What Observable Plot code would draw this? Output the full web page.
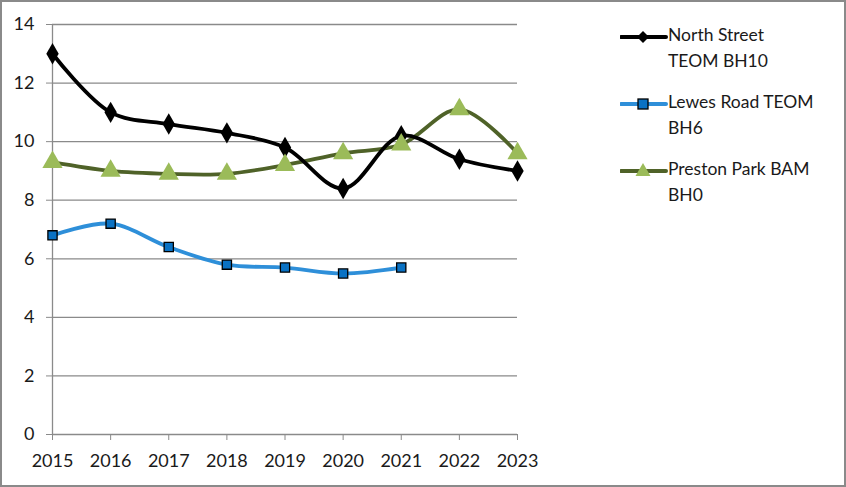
<!DOCTYPE html>
<html><head><meta charset="utf-8">
<script src="https://cdn.jsdelivr.net/npm/d3@7"></script>
<script src="https://cdn.jsdelivr.net/npm/@observablehq/plot@0.6"></script>
<style>
body{margin:0;background:#fff;}
#wrap{position:relative;width:846px;height:487px;}
#wrap svg.plot{outline:2px solid #8a8a8a;outline-offset:-2px;}
#legend{position:absolute;left:620px;top:22px;font-family:Lato,"Open Sans",sans-serif;font-size:17.5px;color:#1a1a1a;}
.item{position:relative;height:67px;}
.item svg{position:absolute;left:0;top:5px;}
.item div{position:absolute;left:48px;top:0;line-height:26px;white-space:nowrap;}
</style></head>
<body><div id="wrap"></div>
<script>
const years = [2015,2016,2017,2018,2019,2020,2021,2022,2023];
const seriesNames = ["North Street TEOM BH10","Lewes Road TEOM BH6","Preston Park BAM BH0"];
const northStreet = [13.0,11.0,10.6,10.3,9.8,8.4,10.2,9.4,9.0];
const lewesRoad = [6.8,7.2,6.4,5.8,5.7,5.5,5.7];
const prestonPark = [9.3,9.0,8.9,8.9,9.2,9.6,9.9,11.1,9.6];
const yTicks = [0,2,4,6,8,10,12,14];

const mk = (vals) => vals.map((v,i)=>({year:years[i], value:v}));
const ns = mk(northStreet), lr = mk(lewesRoad), pp = mk(prestonPark);
const font = "Lato, 'Open Sans', sans-serif";
const gray = "#8a8a8a";

const chart = Plot.plot({
  width:846, height:487,
  marginLeft:52, marginRight:329, marginTop:24, marginBottom:53,
  style:{fontFamily:font, fontSize:"18px", color:"#1a1a1a", background:"#fff"},
  x:{domain:[2015,2023], label:null},
  y:{domain:[0,14], label:null},
  marks:[
    Plot.ruleY(yTicks.filter(d=>d>0), {stroke:gray, strokeWidth:1.3}),
    Plot.ruleY([0], {stroke:gray, strokeWidth:1.3}),
    Plot.ruleX([2015], {stroke:gray, strokeWidth:1.3}),
    Plot.axisX({ticks:years, tickFormat:"d", tickSize:6, tickPadding:14, stroke:gray, strokeOpacity:1, fontSize:18, label:null}),
    Plot.axisY({ticks:yTicks, tickSize:6, tickPadding:12, stroke:gray, strokeOpacity:1, fontSize:18, label:null}),
    Plot.line(pp, {x:"year", y:"value", curve:"catmull-rom", stroke:"#4f6228", strokeWidth:3.8}),
    Plot.line(ns, {x:"year", y:"value", curve:"catmull-rom", stroke:"#000", strokeWidth:3.8}),
    Plot.line(lr, {x:"year", y:"value", curve:"catmull-rom", stroke:"#2e8fd9", strokeWidth:3.8}),
    Plot.dot(ns, {x:"year", y:"value", symbol:"diamond", fill:"#000", r:6.5}),
    Plot.dot(lr, {x:"year", y:"value", symbol:"square", fill:"#0a72c4", stroke:"#000", strokeWidth:1.3, r:5.2}),
    Plot.dot(pp, {x:"year", y:"value", symbol:"triangle", fill:"#9bbb59", r:7.5})
  ]
});
chart.classList.add("plot");
document.getElementById("wrap").appendChild(chart);

const leg = document.createElement("div");
leg.id = "legend";
const marker = [
  `<path d="M23 4 L29 10 L23 16 L17 10 Z" fill="#000"/>`,
  `<rect x="18" y="5" width="10" height="10" fill="#0a72c4" stroke="#000" stroke-width="1.3"/>`,
  `<path d="M23 2 L30.5 15 L15.5 15 Z" fill="#9bbb59"/>`
];
const lineCol = ["#000","#2e8fd9","#4f6228"];
const labels = [["North Street","TEOM BH10"],["Lewes Road TEOM","BH6"],["Preston Park BAM","BH0"]];
labels.forEach((l,i)=>{
  const it = document.createElement("div");
  it.className="item";
  it.innerHTML = `<svg width="48" height="20"><line x1="1" x2="46" y1="10" y2="10" stroke="${lineCol[i]}" stroke-width="4" stroke-linecap="round"/>${marker[i]}</svg><div>${l[0]}<br>${l[1]}</div>`;
  it.title = seriesNames[i];
  leg.appendChild(it);
});
document.getElementById("wrap").appendChild(leg);
</script></body></html>
